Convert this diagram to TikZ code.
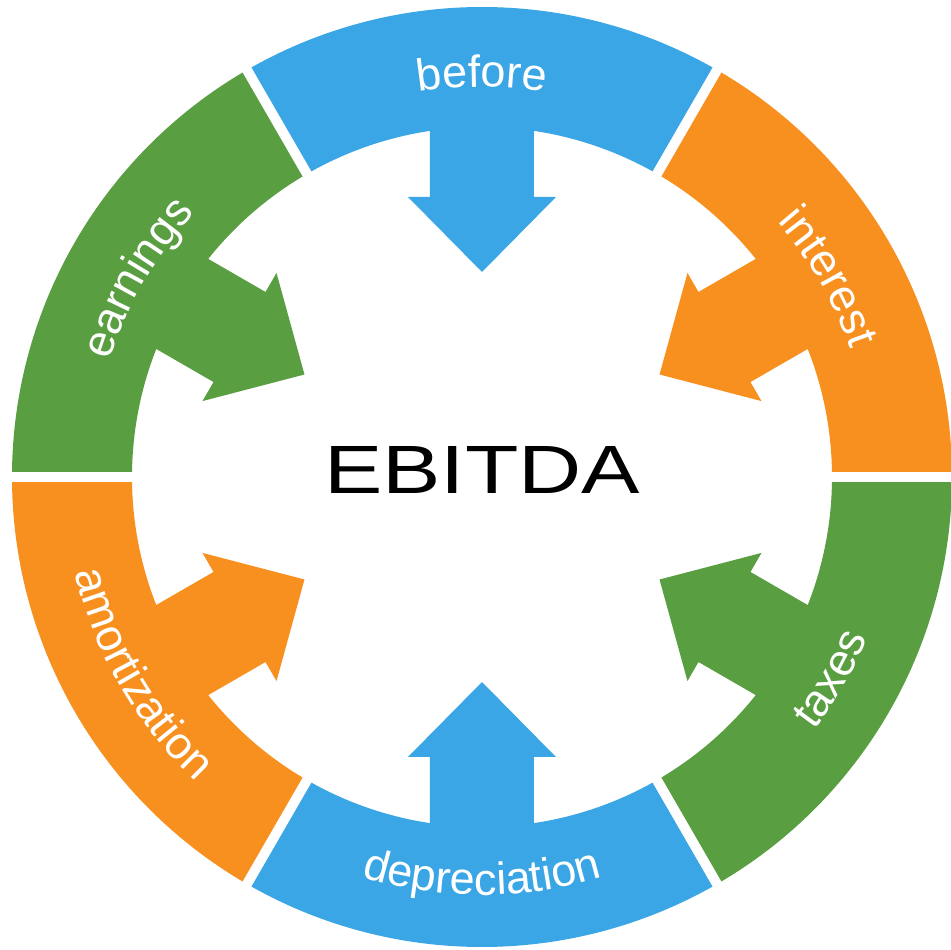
\documentclass[tikz,border=0pt]{standalone}
\usepackage{fontspec}
\setmainfont{Liberation Sans}
\newfontfamily\ebitdafont[FakeStretch=1.28]{Liberation Sans}
\usetikzlibrary{decorations.text}
\definecolor{ringBlue}{RGB}{58,166,230}
\definecolor{ringOrange}{RGB}{248,144,32}
\definecolor{ringGreen}{RGB}{90,158,66}

\begin{document}
\begin{tikzpicture}
[x=0.02cm,y=0.02cm,
  gapDecorate/.style={draw=white,line width=0.2cm},
  wordDecorate/.style={decorate,decoration={text along path,text align=center,
    text color=white,text={|\fontsize{25.6pt}{30pt}\selectfont|#1}}}]
\useasboundingbox (-482,-473) rectangle (469,477);
%% ring segments with arrows
\foreach \ang/\col in {90/ringBlue, 30/ringOrange, -30/ringGreen,
  -90/ringBlue, -150/ringOrange, 150/ringGreen}
{
  \begin{scope}[rotate=\ang]
    \fill[\col] (-30:350) arc[start angle=-30,end angle=30,radius=350]
      -- (30:470) arc[start angle=30,end angle=-30,radius=470] -- cycle;
    \fill[\col] (360,52) -- (280,52) -- (280,74) -- (205,0)
      -- (280,-74) -- (280,-52) -- (360,-52) -- cycle;
  \end{scope}
}
%% white gaps
\foreach \ang in {0,60,...,300}
{
  \draw[gapDecorate] (\ang:340) -- (\ang:480);
}
%% words along the ring
\foreach \ang/\dir/\word in {90/1/before, 30/1/interest, -30/-1/taxes,
  -90/-1/depreciation, -150/-1/amortization, 150/1/earnings}
{
  \pgfmathsetmacro{\startA}{\ang+40*(\dir)}
  \pgfmathsetmacro{\endA}{\ang-40*(\dir)}
  \pgfmathsetmacro{\rad}{404-14*(\dir)}
  \path[wordDecorate=\word] (\startA:\rad)
    arc[start angle=\startA,end angle=\endA,radius=\rad];
}
\node (ebitda) at (0,7) [inner sep=0pt]
  {\ebitdafont\fontsize{38.9pt}{40pt}\selectfont EBITDA};
\end{tikzpicture}
\end{document}
